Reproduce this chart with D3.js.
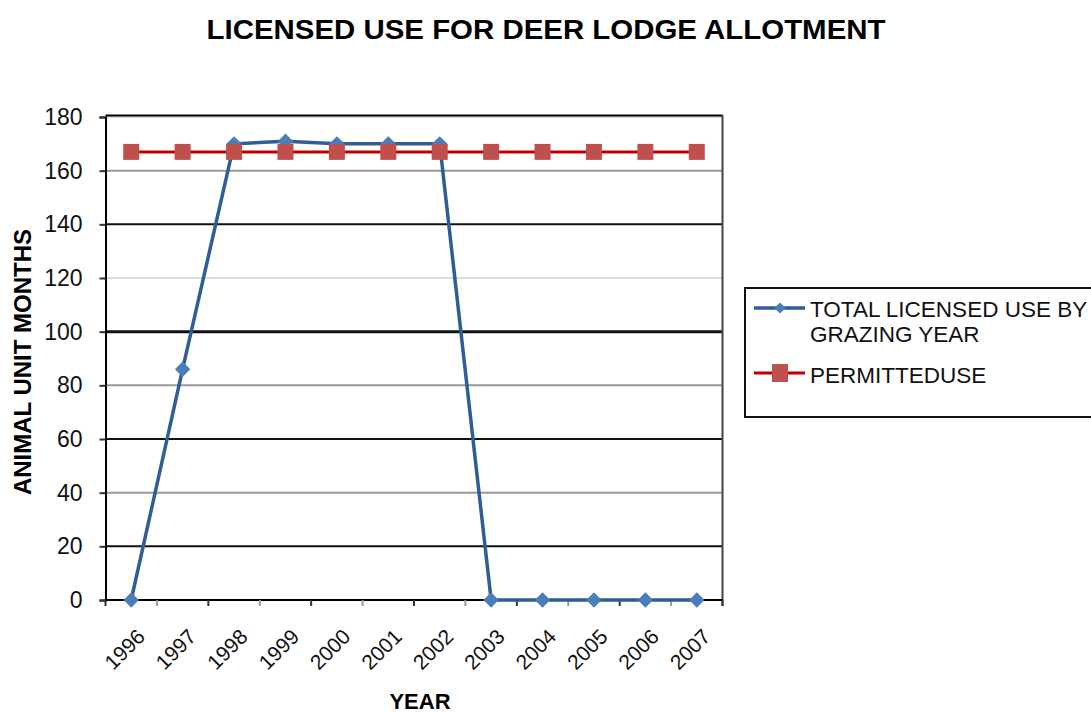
<!DOCTYPE html>
<html>
<head>
<meta charset="utf-8">
<script src="https://cdn.jsdelivr.net/npm/d3@7"></script>
<style>
  body { margin: 0; background: #fff; }
  text { font-family: "Liberation Sans", Arial, sans-serif; }
</style>
</head>
<body>
<div id="chart"></div>
<script>
// chart data
const years = ["1996", "1997", "1998", "1999", "2000", "2001", "2002", "2003", "2004", "2005", "2006", "2007"];
const licensedUse = [0, 86, 170, 171, 170, 170, 170, 0, 0, 0, 0, 0];
const permittedUse = [167, 167, 167, 167, 167, 167, 167, 167, 167, 167, 167, 167];
const yTicks = [0, 20, 40, 60, 80, 100, 120, 140, 160, 180];
const seriesNames = ["TOTAL LICENSED USE BY", "GRAZING YEAR", "PERMITTEDUSE"];

function main() {
    const width = 1091, height = 713;
    const left = 105.5, right = 722.5, top = 117, bottom = 600;

    var svg = d3.select("#chart").append("svg")
        .attr("width", width)
        .attr("height", height)

    var x = d3.scaleBand().domain(years).range([left, right]);
    var y = d3.scaleLinear().domain([0, 180]).range([bottom, top]);

    // gridlines (the scan shows them in uneven greys)
    var gridColor = function (v) {
        if (v == 120 || v == 180) return "#dcdcdc";
        if (v == 40 || v == 80 || v == 160) return "#999";
        return "#111";
    }
    svg.selectAll(".grid")
        .data(yTicks)
        .enter()
        .append("line")
        .attr("x1", left)
        .attr("x2", right)
        .attr("y1", d => y(d))
        .attr("y2", d => y(d))
        .style("stroke", gridColor)
        .style("stroke-width", d => d == 100 ? 3 : 2)

    // frame top / right
    svg.append("line")
        .attr("x1", left).attr("x2", right)
        .attr("y1", top - 1.5).attr("y2", top - 1.5)
        .style("stroke", "#000").style("stroke-width", 2)
    svg.append("line")
        .attr("x1", right).attr("x2", right)
        .attr("y1", top - 2).attr("y2", bottom + 6)
        .style("stroke", "#444").style("stroke-width", 2)

    // y axis
    var yAxis = d3.axisLeft(y).tickValues(yTicks).tickSize(6).tickPadding(17)
    var gy = svg.append("g")
        .attr("transform", "translate(" + left + ",0)")
        .call(yAxis)
    gy.select(".domain").style("stroke", "#000").style("stroke-width", 2)
    gy.selectAll(".tick line").style("stroke", "#333").style("stroke-width", 2)
    gy.selectAll(".tick text")
        .style("font-size", "23px")
        .style("fill", "#111")
        .style("font-family", "Liberation Sans, Arial, sans-serif")

    // x axis: ticks at category boundaries
    var gx = svg.append("g")
    gx.append("line")
        .attr("x1", left).attr("x2", right)
        .attr("y1", bottom).attr("y2", bottom)
        .style("stroke", "#000").style("stroke-width", 2)
    var bounds = years.map(d => x(d)).concat([right])
    gx.selectAll(".xt")
        .data(bounds)
        .enter()
        .append("line")
        .attr("x1", d => d).attr("x2", d => d)
        .attr("y1", bottom).attr("y2", bottom + 6)
        .style("stroke", (d, i) => i % 2 == 0 ? "#333" : "#999")
        .style("stroke-width", 2)
    gx.selectAll(".xl")
        .data(years)
        .enter()
        .append("text")
        .text(d => d)
        .attr("transform", d => "translate(" + (x(d) + x.bandwidth() / 2 + 15) + "," + (bottom + 38) + ") rotate(-45)")
        .attr("text-anchor", "end")
        .style("font-size", "21px")
        .style("fill", "#111")

    var cx = d => x(d) + x.bandwidth() / 2

    // licensed use series
    var seriesLine = d3.line()
        .x((d, i) => cx(years[i]))
        .y(d => y(d))
    svg.append("path")
        .datum(licensedUse)
        .attr("d", seriesLine)
        .style("fill", "none")
        .style("stroke", "#2f5d96")
        .style("stroke-width", 3.5)
    var diamond = d3.symbol().type(d3.symbolDiamond2).size(150)
    svg.selectAll(".dia")
        .data(licensedUse)
        .enter()
        .append("path")
        .attr("d", diamond)
        .attr("transform", (d, i) => "translate(" + cx(years[i]) + "," + y(d) + ")")
        .style("fill", "#4a7ebb")

    // permitted use series
    svg.append("path")
        .datum(permittedUse)
        .attr("d", seriesLine)
        .style("fill", "none")
        .style("stroke", "#c00000")
        .style("stroke-width", 3)
    svg.selectAll(".sq")
        .data(permittedUse)
        .enter()
        .append("rect")
        .attr("x", (d, i) => cx(years[i]) - 8)
        .attr("y", d => y(d) - 8)
        .attr("width", 16)
        .attr("height", 16)
        .style("fill", "#c0504d")

    // title and axis titles
    svg.append("text")
        .text("LICENSED USE FOR DEER LODGE ALLOTMENT")
        .attr("x", 546)
        .attr("y", 39)
        .attr("text-anchor", "middle")
        .attr("textLength", 679)
        .attr("lengthAdjust", "spacingAndGlyphs")
        .style("font-weight", "bold")
        .style("font-size", "27px")
    svg.append("text")
        .text("ANIMAL UNIT MONTHS")
        .attr("transform", "translate(31,362) rotate(-90)")
        .attr("text-anchor", "middle")
        .style("font-weight", "bold")
        .style("font-size", "24px")
    svg.append("text")
        .text("YEAR")
        .attr("x", 420)
        .attr("y", 709)
        .attr("text-anchor", "middle")
        .style("font-weight", "bold")
        .style("font-size", "22px")

    // legend
    var lg = svg.append("g")
    lg.append("rect")
        .attr("x", 745).attr("y", 288)
        .attr("width", 360).attr("height", 129)
        .style("fill", "#fff")
        .style("stroke", "#111")
        .style("stroke-width", 2)
    lg.append("line")
        .attr("x1", 754).attr("x2", 805)
        .attr("y1", 308).attr("y2", 308)
        .style("stroke", "#2f5d96").style("stroke-width", 3.5)
    lg.append("path")
        .attr("d", d3.symbol().type(d3.symbolDiamond2).size(80))
        .attr("transform", "translate(780,308)")
        .style("fill", "#4a7ebb")
    lg.append("line")
        .attr("x1", 754).attr("x2", 805)
        .attr("y1", 373).attr("y2", 373)
        .style("stroke", "#c00000").style("stroke-width", 3)
    lg.append("rect")
        .attr("x", 772).attr("y", 364)
        .attr("width", 16).attr("height", 18)
        .style("fill", "#c0504d")
    lg.selectAll(".lt")
        .data(seriesNames)
        .enter()
        .append("text")
        .text(d => d)
        .attr("x", 810)
        .attr("y", (d, i) => [317, 342, 383][i])
        .style("font-size", "22.5px")
        .style("fill", "#111")
}
main();
</script>
</body>
</html>
